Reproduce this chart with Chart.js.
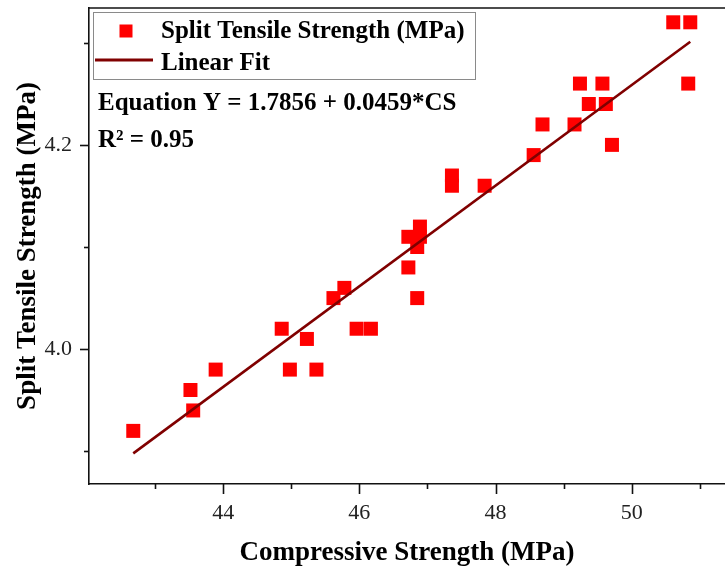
<!DOCTYPE html>
<html>
<head>
<meta charset="utf-8">
<script src="https://cdn.jsdelivr.net/npm/chart.js@4.4.0/dist/chart.umd.min.js"></script>
<style>
  html, body { margin: 0; padding: 0; background: #fff; overflow: hidden; }
  #wrap { width: 725px; height: 571px; }
</style>
</head>
<body>
<div id="wrap"><canvas id="fitChart"></canvas></div>
<script>
// values
const compressive = [42.68, 43.52, 43.56, 43.89, 44.86, 44.98, 45.23, 45.37, 45.62, 45.78, 45.96, 46.17,
  46.72, 46.89, 46.89, 46.85, 46.72, 46.85, 47.36, 47.36, 47.84, 48.56, 48.69, 49.16, 49.24, 49.57,
  49.37, 49.62, 49.71, 50.61, 50.86, 50.83]
const splitTensile = [3.92, 3.96, 3.94, 3.98, 4.02, 3.98, 4.01, 3.98, 4.05, 4.06, 4.02, 4.02,
  4.11, 4.12, 4.11, 4.10, 4.08, 4.05, 4.17, 4.16, 4.16, 4.19, 4.22, 4.22, 4.26, 4.26,
  4.24, 4.24, 4.20, 4.32, 4.32, 4.26]

// ends of the drawn fit line
const fitX = [42.68, 50.86]
const fitY = [3.898, 4.301]

const xMajorTicks = [44, 46, 48, 50]
const xMinorTicks = [43, 45, 47, 49, 51]
const yMajorTicks = [4.0, 4.2]
const yMinorTicks = [3.9, 4.1, 4.3]

const equationText = 'Equation Y = 1.7856 + 0.0459*CS'
const rSquaredText = 'R² = 0.95'

const serif = "'Liberation Serif', 'Times New Roman', serif"
const pointColor = 'rgb(255, 0, 0)'
const lineColor = '#800000'

// tick marks, top frame line, legend box and equation text
const notesPlugin = {
  id: 'notes',
  afterDraw(chart) {
    const ctx = chart.ctx
    const area = chart.chartArea
    const xs = chart.scales.x
    const ys = chart.scales.y

    ctx.save()
    ctx.strokeStyle = '#111'
    ctx.lineWidth = 1.6

    // top frame
    ctx.beginPath()
    ctx.moveTo(area.left, area.top)
    ctx.lineTo(area.right, area.top)
    ctx.stroke()

    const drawX = (vals, len) => {
      vals.forEach(v => {
        const px = Math.round(xs.getPixelForValue(v)) + 0.5
        ctx.beginPath()
        ctx.moveTo(px, area.bottom)
        ctx.lineTo(px, area.bottom + len)
        ctx.stroke()
      })
    }
    const drawY = (vals, len) => {
      vals.forEach(v => {
        const py = Math.round(ys.getPixelForValue(v)) + 0.5
        ctx.beginPath()
        ctx.moveTo(area.left, py)
        ctx.lineTo(area.left - len, py)
        ctx.stroke()
      })
    }
    drawX(xMajorTicks, 10)
    drawX(xMinorTicks, 5)
    drawY(yMajorTicks, 9)
    drawY(yMinorTicks, 5)

    // legend box
    const sets = chart.data.datasets
    ctx.strokeStyle = '#8a8a8a'
    ctx.lineWidth = 1
    ctx.strokeRect(93.5, 12.5, 382, 67)

    ctx.fillStyle = sets[1].backgroundColor
    ctx.fillRect(119.5, 24.5, 13, 13)

    ctx.strokeStyle = sets[0].borderColor
    ctx.lineWidth = 3
    ctx.beginPath()
    ctx.moveTo(95, 60)
    ctx.lineTo(153, 60)
    ctx.stroke()

    ctx.fillStyle = '#000'
    ctx.font = 'bold 25px ' + serif
    ctx.textBaseline = 'alphabetic'
    ctx.textAlign = 'left'
    ctx.fillText(sets[1].label, 161, 38)
    ctx.fillText(sets[0].label, 161, 70)

    ctx.fillText(equationText, 98, 110)
    ctx.fillText(rSquaredText, 98, 147)
    ctx.restore()
  },
}

const ctx = document.getElementById('fitChart').getContext('2d')

const fitChart = new Chart(ctx, {
  type: 'scatter',
  data: {
    datasets: [
      {
        label: 'Linear Fit',
        data: fitX.map((x, i) => ({ x: x, y: fitY[i] })),
        showLine: true,
        borderColor: lineColor,
        borderWidth: 2.6,
        pointRadius: 0,
        order: 0,
      },
      {
        label: 'Split Tensile Strength (MPa)',
        data: compressive.map((x, i) => ({ x: x, y: splitTensile[i] })),
        pointStyle: 'rect',
        pointRadius: 9.9,
        pointBorderWidth: 0,
        backgroundColor: pointColor,
        borderColor: pointColor,
        order: 1,
      },
    ],
  },
  options: {
    responsive: true,
    maintainAspectRatio: false,
    animation: false,
    devicePixelRatio: 1,
    layout: { autoPadding: false, padding: { top: 8, left: 0, right: 0, bottom: 0 } },
    plugins: {
      legend: { display: false },
      tooltip: { enabled: false },
    },
    scales: {
      x: {
        type: 'linear',
        min: 42.03,
        max: 51.37,
        afterBuildTicks: scale => {
          scale.ticks = xMajorTicks.map(v => ({ value: v }))
        },
        afterFit: scale => {
          scale.height = 87
          scale.paddingLeft = 0
          scale.paddingRight = 0
        },
        grid: { display: false, drawTicks: false },
        border: { display: true, color: '#111', width: 1.6 },
        ticks: {
          padding: 16,
          color: '#222',
          font: { family: serif, size: 22 },
          maxRotation: 0,
          callback: v => String(v),
        },
        title: {
          display: true,
          text: 'Compressive Strength (MPa)',
          color: '#000',
          font: { family: serif, size: 27, weight: 'bold' },
          padding: { top: 0, bottom: 2 },
        },
      },
      y: {
        type: 'linear',
        min: 3.868,
        max: 4.334,
        afterBuildTicks: scale => {
          scale.ticks = yMajorTicks.map(v => ({ value: v }))
        },
        afterFit: scale => {
          scale.width = 89
          scale.paddingTop = 0
          scale.paddingBottom = 0
        },
        grid: { display: false, drawTicks: false },
        border: { display: true, color: '#111', width: 1.6 },
        ticks: {
          padding: 17,
          color: '#222',
          font: { family: serif, size: 22 },
          callback: v => Number(v).toFixed(1),
        },
        title: {
          display: true,
          text: 'Split Tensile Strength (MPa)',
          color: '#000',
          font: { family: serif, size: 27, weight: 'bold' },
          padding: { top: 12, bottom: 0 },
        },
      },
    },
  },
  plugins: [notesPlugin],
})
</script>
</body>
</html>
